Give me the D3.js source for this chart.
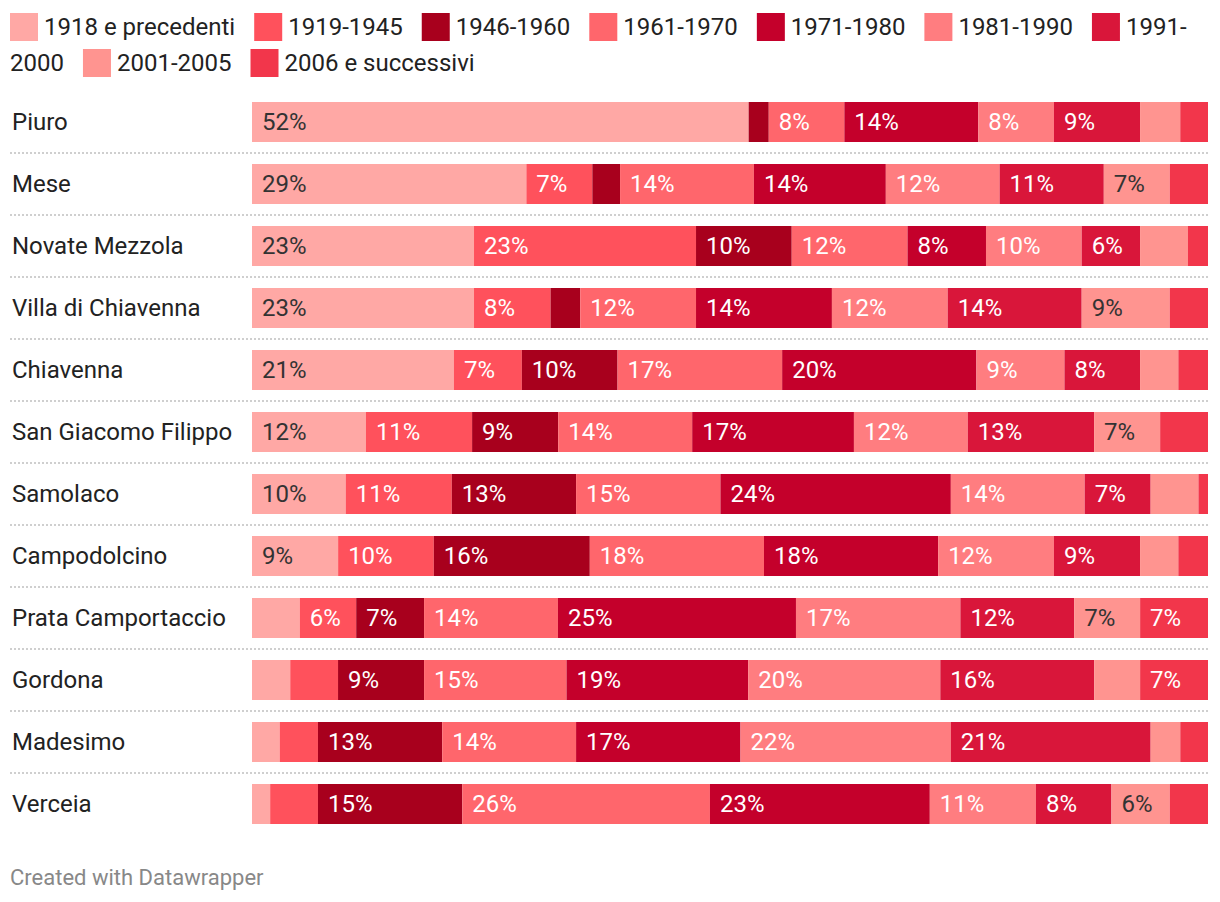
<!DOCTYPE html>
<html>
<head>
<meta charset="utf-8">
<script src="https://cdn.jsdelivr.net/npm/d3@7"></script>
<style>
  html, body { margin: 0; padding: 0; background: #fff; }
  svg { display: block; font-family: Roboto, "Noto Sans", sans-serif; }
</style>
</head>
<body>
<svg id="chart" width="1220" height="902"></svg>
<script>
const categories = ["Piuro", "Mese", "Novate Mezzola", "Villa di Chiavenna", "Chiavenna",
  "San Giacomo Filippo", "Samolaco", "Campodolcino", "Prata Camportaccio", "Gordona",
  "Madesimo", "Verceia"];

const seriesNames = ["1918 e precedenti", "1919-1945", "1946-1960", "1961-1970", "1971-1980",
  "1981-1990", "1991-2000", "2001-2005", "2006 e successivi"];

const seriesColors = ["#ffa8a5", "#ff515c", "#a8001d", "#ff666c", "#c4002b",
  "#ff7d80", "#d9163a", "#ff9490", "#f2364b"];

// label text color per series (dark on the lightest fills)
const labelColors = ["#333333", "#ffffff", "#ffffff", "#ffffff", "#ffffff",
  "#ffffff", "#ffffff", "#333333", "#ffffff"];

// values (%) per series, in category order
const s1918 = [51.9, 28.7, 23.2, 23.2, 21.1, 11.9, 9.8, 9.0, 5.0, 4.0, 2.9, 1.9];
const s1919 = [0.0, 6.9, 23.2, 8.0, 7.1, 11.1, 11.1, 10.0, 5.9, 5.0, 4.0, 5.0];
const s1946 = [2.1, 2.9, 10.0, 3.1, 10.0, 9.0, 13.0, 16.3, 7.1, 9.0, 13.0, 15.1];
const s1961 = [7.9, 14.0, 12.1, 12.1, 17.2, 14.0, 15.1, 18.2, 14.0, 14.9, 14.0, 25.9];
const s1971 = [14.0, 13.8, 8.2, 14.2, 20.3, 16.9, 24.1, 18.2, 24.9, 19.0, 17.2, 23.0];
const s1981 = [7.9, 11.9, 10.0, 12.1, 9.2, 11.9, 14.0, 12.1, 17.2, 20.1, 22.0, 11.1];
const s1991 = [9.0, 10.9, 6.1, 14.0, 7.9, 13.2, 6.9, 9.0, 11.9, 16.1, 20.9, 7.9];
const s2001 = [4.2, 6.9, 5.0, 9.2, 4.0, 6.9, 5.0, 4.0, 6.9, 4.8, 3.1, 6.1];
const s2006 = [2.9, 4.0, 2.1, 4.0, 3.1, 5.0, 1.0, 3.1, 7.1, 7.1, 2.9, 4.0];

const seriesValues = [s1918, s1919, s1946, s1961, s1971, s1981, s1991, s2001, s2006];

const labelThreshold = 5.5;

// build table for d3.stack
const table = categories.map((c, i) => {
  const row = { name: c };
  seriesNames.forEach((s, j) => { row[s] = seriesValues[j][i]; });
  return row;
});

const svg = d3.select("#chart");

const x = d3.scaleLinear().domain([0, 100]).range([252, 1208]);
const y = d3.scaleBand().domain(categories).range([102, 824]).paddingInner(22 / 62).paddingOuter(0);
const color = d3.scaleOrdinal().domain(seriesNames).range(seriesColors);
const textColor = d3.scaleOrdinal().domain(seriesNames).range(labelColors);

const stack = d3.stack().keys(seriesNames).offset((series) => {
  // normalize each row to 100
  for (let i = 0; i < series[0].length; i++) {
    let sum = 0;
    for (let j = 0; j < series.length; j++) sum += series[j][i][1] - series[j][i][0];
    if (!sum) continue;
    let acc = 0;
    for (let j = 0; j < series.length; j++) {
      const v = (series[j][i][1] - series[j][i][0]) / sum * 100;
      series[j][i][0] = acc;
      acc += v;
      series[j][i][1] = acc;
    }
  }
});
const stacked = stack(table);

// dotted separators between rows
const sepData = categories.slice(0, -1);
svg.append("g").selectAll("line").data(sepData).join("line")
  .attr("x1", 10).attr("x2", 1208)
  .attr("y1", d => y(d) + y.bandwidth() + (y.step() - y.bandwidth()) / 2)
  .attr("y2", d => y(d) + y.bandwidth() + (y.step() - y.bandwidth()) / 2)
  .attr("stroke", "#cfcfcf").attr("stroke-width", 2).attr("stroke-dasharray", "2,2");

// row labels
svg.append("g").selectAll("text").data(categories).join("text")
  .attr("x", 12)
  .attr("y", d => y(d) + y.bandwidth() / 2)
  .attr("dy", "0.35em")
  .attr("font-size", 24)
  .attr("fill", "#222")
  .text(d => d);

// bars
const layers = svg.append("g").selectAll("g").data(stacked).join("g")
  .attr("fill", d => color(d.key));

layers.selectAll("rect").data(d => d.map(p => ({ p, key: d.key }))).join("rect")
  .attr("x", d => x(d.p[0]))
  .attr("width", d => Math.max(0, x(d.p[1]) - x(d.p[0])))
  .attr("y", d => y(d.p.data.name))
  .attr("height", y.bandwidth());

// value labels
const labelsG = svg.append("g");
stacked.forEach(layer => {
  layer.forEach(p => {
    const v = p.data[layer.key];
    if (v >= labelThreshold) {
      labelsG.append("text")
        .attr("x", x(p[0]) + 10)
        .attr("y", y(p.data.name) + y.bandwidth() / 2)
        .attr("dy", "0.35em")
        .attr("font-size", 24)
        .attr("fill", textColor(layer.key))
        .text(Math.round(v) + "%");
    }
  });
});

// legend (wrapping)
const legend = svg.append("g");
let lx = 10, ly = 13;
const legendMax = 1212;
const sw = 28, gapAfterSwatch = 6, itemGap = 19, lineH = 36, fs = 24;
const measure = svg.append("text").attr("font-size", fs).attr("visibility", "hidden");
seriesNames.forEach((name) => {
  measure.text(name);
  const tw = measure.node().getComputedTextLength();
  if (lx + sw + gapAfterSwatch + tw > legendMax && name.includes("-") && lx + sw + gapAfterSwatch < legendMax - 40) {
    // split at hyphen like the reference
    const parts = [name.slice(0, name.indexOf("-") + 1), name.slice(name.indexOf("-") + 1)];
    legend.append("rect").attr("x", lx).attr("y", ly).attr("width", sw).attr("height", sw).attr("fill", color(name));
    legend.append("text").attr("x", lx + sw + gapAfterSwatch).attr("y", ly + sw / 2).attr("dy", "0.35em")
      .attr("font-size", fs).attr("fill", "#222").text(parts[0]);
    ly += lineH; lx = 10;
    legend.append("text").attr("x", lx).attr("y", ly + sw / 2).attr("dy", "0.35em")
      .attr("font-size", fs).attr("fill", "#222").text(parts[1]);
    measure.text(parts[1]);
    lx += measure.node().getComputedTextLength() + itemGap;
    return;
  }
  if (lx + sw + gapAfterSwatch + tw > legendMax) { lx = 10; ly += lineH; }
  legend.append("rect").attr("x", lx).attr("y", ly).attr("width", sw).attr("height", sw).attr("fill", color(name));
  legend.append("text").attr("x", lx + sw + gapAfterSwatch).attr("y", ly + sw / 2).attr("dy", "0.35em")
    .attr("font-size", fs).attr("fill", "#222").text(name);
  lx += sw + gapAfterSwatch + tw + itemGap;
});
measure.remove();

// footer
svg.append("text").attr("x", 10).attr("y", 877).attr("dy", "0.35em")
  .attr("font-size", 22).attr("fill", "#888").text("Created with Datawrapper");
</script>
</body>
</html>
